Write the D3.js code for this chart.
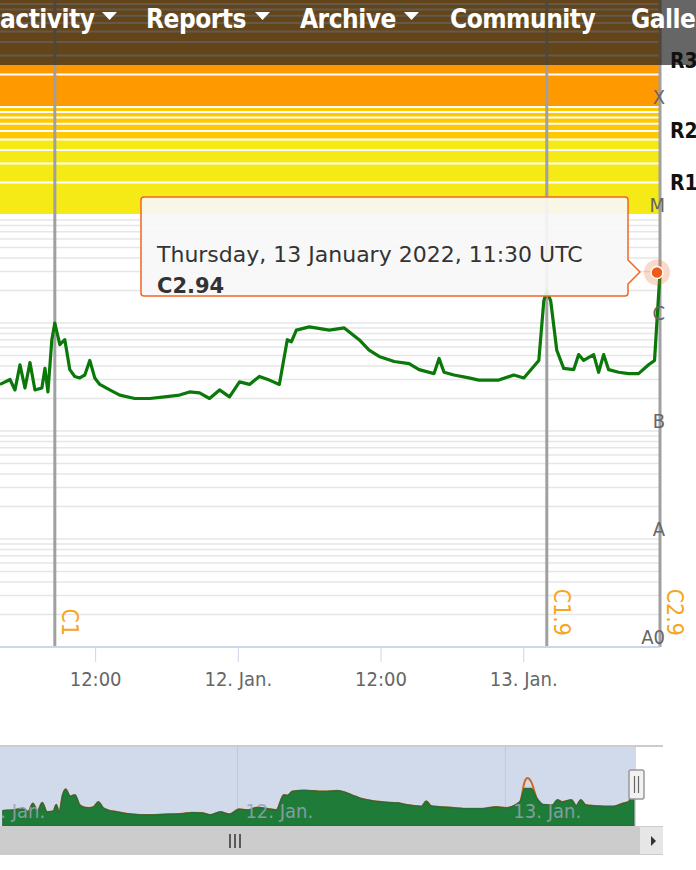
<!DOCTYPE html>
<html><head><meta charset="utf-8">
<script src="https://cdn.jsdelivr.net/npm/d3@7"></script>
<style>body{margin:0;background:#fff;overflow:hidden}</style>
</head><body>
<div id="chart"></div>
<script>
// x-ray flux, hours since 11 Jan 2022 00:00 UTC and W/m2
var fluxSeries = [[3.0,2.6e-7],[4.0,2.7e-7],[4.84,3.0e-7],[5.26,2.4e-7],[5.68,4.1e-7],[6.1,2.5e-7],[6.52,4.3e-7],[6.94,2.4e-7],
  [7.52,2.5e-7],[7.78,3.8e-7],[8.03,2.3e-7],[8.36,7.0e-7],[8.61,1.0e-6],[9.03,6.3e-7],[9.45,7.0e-7],[9.87,3.7e-7],
  [10.29,3.2e-7],[10.71,3.1e-7],[11.13,3.3e-7],[11.55,4.5e-7],[11.97,3.1e-7],[12.39,2.7e-7],[13.23,2.4e-7],[14.07,2.15e-7],
  [15.33,2.0e-7],[16.59,2.0e-7],[17.84,2.07e-7],[19.1,2.15e-7],[19.94,2.3e-7],[20.78,2.25e-7],[21.62,2.0e-7],[22.46,2.4e-7],
  [23.3,2.07e-7],[24.14,2.85e-7],[24.98,2.7e-7],[25.81,3.2e-7],[26.65,2.96e-7],[27.49,2.7e-7],[28.16,7.0e-7],[28.5,6.7e-7],
  [28.92,8.6e-7],[30.01,9.2e-7],[31.69,8.6e-7],[32.95,9.0e-7],[34.2,7.0e-7],[35.04,5.6e-7],[35.88,4.9e-7],[37.14,4.4e-7],
  [38.4,4.2e-7],[39.24,3.7e-7],[40.5,3.4e-7],[40.92,4.7e-7],[41.34,3.5e-7],[42.17,3.3e-7],[43.43,3.1e-7],[44.27,2.96e-7],
  [45.95,2.96e-7],[47.21,3.3e-7],[48.05,3.1e-7],[49.31,4.5e-7],[49.73,1.6e-6],[49.98,2.0e-6],[50.31,1.6e-6],[50.82,5.6e-7],
  [51.4,3.8e-7],[52.24,3.7e-7],[52.66,5.1e-7],[53.08,4.5e-7],[53.92,5.1e-7],[54.34,3.5e-7],[54.76,5.1e-7],[55.18,3.7e-7],
  [56.02,3.5e-7],[56.86,3.4e-7],[57.7,3.4e-7],[58.54,4.1e-7],[59.04,4.5e-7],[59.5,2.94e-6]];
var flares = [{h:8.61,label:"C1"},{h:49.98,label:"C1.9"},{h:59.5,label:"C2.9"}];
var classTicks = [{v:1e-9,t:"A0"},{v:1e-8,t:"A"},{v:1e-7,t:"B"},{v:1e-6,t:"C"},{v:1e-5,t:"M"},{v:1e-4,t:"X"}];
var rLabels = [{v:2.72e-4,t:"R3"},{v:6.1e-5,t:"R2"},{v:2.0e-5,t:"R1"}];
var bands = [{from:1e-4,to:1e-3,c:"#ff9900"},{from:5e-5,to:1e-4,c:"#ffc800"},{from:1e-5,to:5e-5,c:"#f5e916"}];
var xTickHours = [12,24,36,48];
var navTickHours = [24,48];
var menu = [{t:"activity",x:0,arrow:true},{t:"Reports",x:146,arrow:true},{t:"Archive",x:300,arrow:true},{t:"Community",x:450},{t:"Galle",x:631}];

function toDate(h){ return new Date(Date.UTC(2022,0,11) + h*3600e3); }

var W = 696, H = 870, plotW = 660;
var svg = d3.select('#chart').append('svg').attr('width', W).attr('height', H)
  .style('font-family','"DejaVu Sans Condensed","DejaVu Sans",sans-serif');

var x = d3.scaleUtc().domain([toDate(4), toDate(59.5)]).range([0, plotW]);
var y = d3.scaleLog().domain([1e-9, 1e-3]).range([647, -1]);

// colour bands
svg.selectAll('.band').data(bands).enter().append('rect')
  .attr('x',0).attr('width',plotW)
  .attr('y',function(d){return y(d.to);})
  .attr('height',function(d){return y(d.from)-y(d.to);})
  .attr('fill',function(d){return d.c;});

// log grid lines
var grid = [];
for (var e=-9;e<-3;e++) for (var m=1;m<10;m++) grid.push(m*Math.pow(10,e));
svg.selectAll('.grid').data(grid).enter().append('line')
  .attr('x1',0).attr('x2',plotW)
  .attr('y1',function(d){return y(d);}).attr('y2',function(d){return y(d);})
  .attr('stroke',function(d){return d>=1e-5 ? '#ffffff' : '#e6e6e6';})
  .attr('stroke-width',function(d){return d>=1e-5 ? 2 : 1.5;});

// flare markers
svg.selectAll('.flare').data(flares).enter().append('line')
  .attr('x1',function(d){return x(toDate(d.h));}).attr('x2',function(d){return x(toDate(d.h));})
  .attr('y1',0).attr('y2',647).attr('stroke','#a0a0a0').attr('stroke-width',3);
svg.selectAll('.flareLabel').data(flares).enter().append('text')
  .attr('transform',function(d){return 'translate(' + (x(toDate(d.h))+7) + ',636) rotate(90)';})
  .attr('text-anchor','end').attr('fill','#f7a51e').style('font-size','23px')
  .text(function(d){return d.label;});

// line
var line = d3.line().x(function(d){return x(toDate(d[0]));}).y(function(d){return y(d[1]);});
svg.append('path').datum(fluxSeries.filter(function(d){return d[0]>=4;}))
  .attr('fill','none').attr('stroke','#0a790a').attr('stroke-width',3.2)
  .attr('stroke-linejoin','round').attr('d',line);

// x axis
var axisX = d3.axisBottom(x).tickValues(xTickHours.map(toDate)).tickSize(15).tickPadding(10)
  .tickFormat(function(d){ return d.getUTCHours()===0 ? d.getUTCDate()+'. Jan.' : '12:00'; });
var gx = svg.append('g').attr('transform','translate(0,647)').call(axisX);
gx.select('.domain').attr('stroke','#ccd6eb').attr('stroke-width',2).attr('d','M0,0H'+plotW);
gx.selectAll('.tick line').attr('stroke','#ccd6eb');
gx.selectAll('.tick text').attr('fill','#666').style('font-size','20px').style('font-family','"DejaVu Sans Condensed",sans-serif');

// class labels
svg.selectAll('.cls').data(classTicks).enter().append('text')
  .attr('x',665).attr('y',function(d){return y(d.v)-3;})
  .attr('text-anchor','end').attr('fill','#666').style('font-size','20px')
  .text(function(d){return d.t;});

// tooltip
var last = fluxSeries[fluxSeries.length-1];
var px = x(toDate(last[0])) - 3, py = y(last[1]);
svg.append('circle').attr('cx',px).attr('cy',py).attr('r',13).attr('fill','#f26522').attr('opacity',0.25);
svg.append('circle').attr('cx',px).attr('cy',py).attr('r',6).attr('fill','#f05a1a').attr('stroke','#fff').attr('stroke-width',1.5);
svg.append('path')
  .attr('d','M144,197H625Q628,197 628,200V260L640,272L628,284V293Q628,296 625,296H144Q141,296 141,293V200Q141,197 144,197Z')
  .attr('fill','#f7f7f7').attr('fill-opacity',0.92).attr('stroke','#f26522').attr('stroke-width',1.5);
svg.append('text').attr('x',157).attr('y',262).attr('fill','#333').style('font-size','22px').style('font-family','"DejaVu Sans",sans-serif')
  .text('Thursday, 13 January 2022, 11:30 UTC');
svg.append('text').attr('x',157).attr('y',293).attr('fill','#333').attr('font-weight','bold').style('font-size','21px').style('font-family','"DejaVu Sans",sans-serif')
  .text('C' + (last[1]*1e6).toFixed(2));

// header menu bar overlay
svg.append('rect').attr('x',0).attr('y',0).attr('width',662).attr('height',65).attr('fill','rgb(60,47,31)').attr('fill-opacity',0.8);
svg.append('rect').attr('x',662).attr('y',0).attr('width',34).attr('height',65).attr('fill','#666');
var menuG = svg.selectAll('.menu').data(menu).enter().append('g');
menuG.append('text').attr('x',function(d){return d.x;}).attr('y',28)
  .attr('fill','#fff').attr('font-weight','bold').style('font-size','26px')
  .style('font-family','"DejaVu Sans Condensed",sans-serif').attr('letter-spacing','-0.5')
  .text(function(d){return d.t;});
menuG.filter(function(d){return d.arrow;}).append('path')
  .attr('d',function(d,i){var ax=[102,255,404][i]; return 'M'+ax+',12h15l-7.5,8z';})
  .attr('fill','#fff');

// R scale labels on top of the header
svg.selectAll('.rl').data(rLabels).enter().append('text')
  .attr('x',670).attr('y',function(d){return y(d.v)+8;})
  .attr('fill','#111').attr('font-weight','bold').style('font-size','21px')
  .text(function(d){return d.t;});

// navigator
var nx = d3.scaleUtc().domain([toDate(2.74), toDate(59.7)]).range([0,636]);
var ny = d3.scaleLog().domain([1e-7,4e-6]).range([826,767]);
svg.append('rect').attr('x',0).attr('y',746).attr('width',636).attr('height',80).attr('fill','#d1daeb');
svg.append('line').attr('x1',0).attr('x2',663).attr('y1',746).attr('y2',746).attr('stroke','#ccc').attr('stroke-width',2);
svg.selectAll('.ngrid').data(navTickHours).enter().append('line')
  .attr('x1',function(d){return nx(toDate(d));}).attr('x2',function(d){return nx(toDate(d));})
  .attr('y1',747).attr('y2',826).attr('stroke','#bfc8da');
svg.append('path').datum(fluxSeries).attr('fill','none').attr('stroke','#d2691e').attr('stroke-width',2)
  .attr('d',d3.line().curve(d3.curveMonotoneX).x(function(d){return nx(toDate(d[0]));}).y(function(d){return ny(d[1]);}));
svg.append('path').datum(fluxSeries).attr('fill','#1f7c38').attr('stroke','#2a6b3a').attr('stroke-width',1.5)
  .attr('d',d3.area().curve(d3.curveMonotoneX).x(function(d){return nx(toDate(d[0]));}).y0(826)
    .y1(function(d){return ny(Math.min(d[1],1.05e-6));}));
svg.selectAll('.nlab').data([0,24,48]).enter().append('text')
  .attr('x',function(d){return nx(toDate(d))+8;}).attr('y',818)
  .attr('fill','#9aa3b5').attr('fill-opacity',0.85).style('font-size','20px')
  .text(function(d){return (11+d/24)+'. Jan.';});
// handle
svg.append('rect').attr('x',629).attr('y',770).attr('width',15).attr('height',29).attr('rx',2).attr('fill','#f2f2f2').attr('stroke','#999').attr('stroke-width',1.5);
svg.append('path').attr('d','M634.5,776V793M638.5,776V793').attr('stroke','#666').attr('stroke-width',1.2);
// scrollbar
svg.append('rect').attr('x',0).attr('y',826).attr('width',663).attr('height',29).attr('fill','#cccccc');
svg.append('path').attr('d','M230,834V848M235,834V848M240,834V848').attr('stroke','#333').attr('stroke-width',1.5);
svg.append('rect').attr('x',640).attr('y',827).attr('width',23).attr('height',27).attr('fill','#e6e6e6');
svg.append('path').attr('d','M651,836L656,841L651,846Z').attr('fill','#333');
</script>
</body></html>
